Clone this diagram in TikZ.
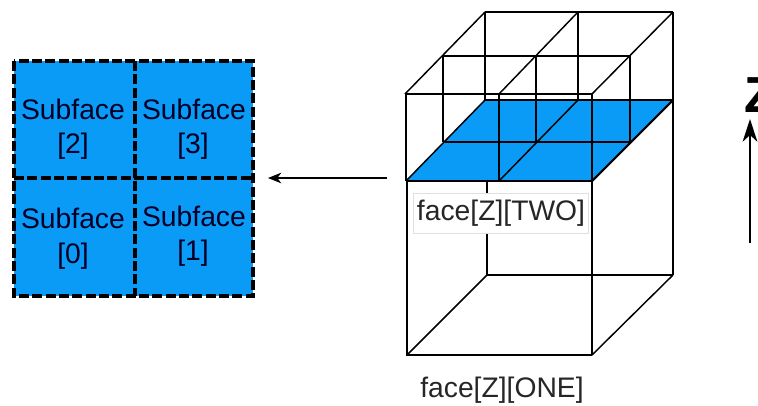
\documentclass[tikz,border=0pt]{standalone}
\usepackage{fontspec}
\setmainfont{Liberation Sans}
\usetikzlibrary{arrows.meta}
\definecolor{faceblue}{HTML}{0A9BF6}
\tikzset{
  edge/.style={black,line width=1.6pt},
  thinedge/.style={black,line width=1.1pt},
  griddash/.style={black,line width=2.4pt,dash pattern=on 7.6pt off 2.4pt},
  flowarrow/.style={black,line width=1pt,-{Stealth[length=10pt,width=8pt,inset=3pt]}},
  zarrow/.style={black,line width=1.6pt,-{Stealth[length=17pt,width=11pt,inset=5pt]}},
  sublabel/.style={font=\fontsize{21.2}{21.2}\selectfont,text=black!85!blue},
  facelabel/.style={font=\fontsize{21.2}{21.2}\selectfont,text=black!85},
}
\begin{document}
\begin{tikzpicture}[x=0.75pt,y=-0.75pt]
\useasboundingbox (0,0) rectangle (758,405);

\fill[faceblue] (14,61) rectangle (253,296);
\draw[griddash] (14,61) rectangle (253,296);
\draw[griddash] (135,61) -- (135,296);
\draw[griddash] (14,178) -- (253,178);
\path (73,109) node[sublabel] (sub2) {Subface};
\path (73,146) node[sublabel] (idx2) {[2]};
\path (194,109) node[sublabel] (sub3) {Subface};
\path (193,146) node[sublabel] (idx3) {[3]};
\path (73,218) node[sublabel] (sub0) {Subface};
\path (73,256) node[sublabel] (idx0) {[0]};
\path (194,216) node[sublabel] (sub1) {Subface};
\path (193,253) node[sublabel] (idx1) {[1]};

\draw[thinedge] (405,94) -- (485,12);
\draw[thinedge] (499,94) -- (578,12);
\draw[thinedge] (592,94) -- (673,12);
\draw[thinedge] (485,12) -- (673,12);
\draw[thinedge] (443,56) -- (630,56);
\draw[thinedge] (405,94) -- (592,94);
\draw[edge] (485,12) -- (485,100);
\draw[edge] (578,12) -- (578,100);
\draw[edge] (673,12) -- (673,275);
\draw[edge] (443,56) -- (443,142);
\draw[edge] (536,56) -- (536,142);
\draw[edge] (630,56) -- (630,142);
\draw[edge] (406,94) -- (406,181);

\fill[faceblue] (406,181) -- (485,100) -- (673,100) -- (592,181) -- cycle;
\draw[edge] (536,100) -- (536,142);
\draw[edge] (630,100) -- (630,142);
\draw[edge] (578,94) -- (578,100);
\draw[edge] (485,100) -- (673,100);
\draw[edge] (445,142) -- (630,142);
\draw[thinedge] (406,181) -- (485,100);
\draw[edge] (592,181) -- (673,100);
\draw[thinedge] (499,181) -- (578,100);
\draw[edge] (499,94) -- (499,181);
\draw[edge] (592,94) -- (592,355);
\draw[edge] (406,181) -- (592,181);

\draw[edge] (407,181) -- (407,355) -- (592,355);
\draw[edge] (487,181) -- (487,275) -- (673,275);
\draw[thinedge] (407,355) -- (487,275);
\draw[thinedge] (592,355) -- (673,275);

\path (501,213) node[facelabel,draw=black!12,fill=white,line width=0.5pt,minimum width=131pt,minimum height=30pt,inner sep=0pt] (facetwo) {face[Z][TWO]};
\path (502,390) node[facelabel] (faceone) {face[Z][ONE]};

\coordinate (flowstart) at (387,178);
\coordinate (flowend) at (268,178);
\draw[flowarrow] (flowstart) -- (flowend);

\coordinate (zstart) at (750,243);
\coordinate (zend) at (750,119);
\draw[zarrow] (zstart) -- (zend);
\path (760,95) node[font=\bfseries\fontsize{38}{38}\selectfont,inner sep=0pt] (zlabel) {Z};
\end{tikzpicture}
\end{document}
